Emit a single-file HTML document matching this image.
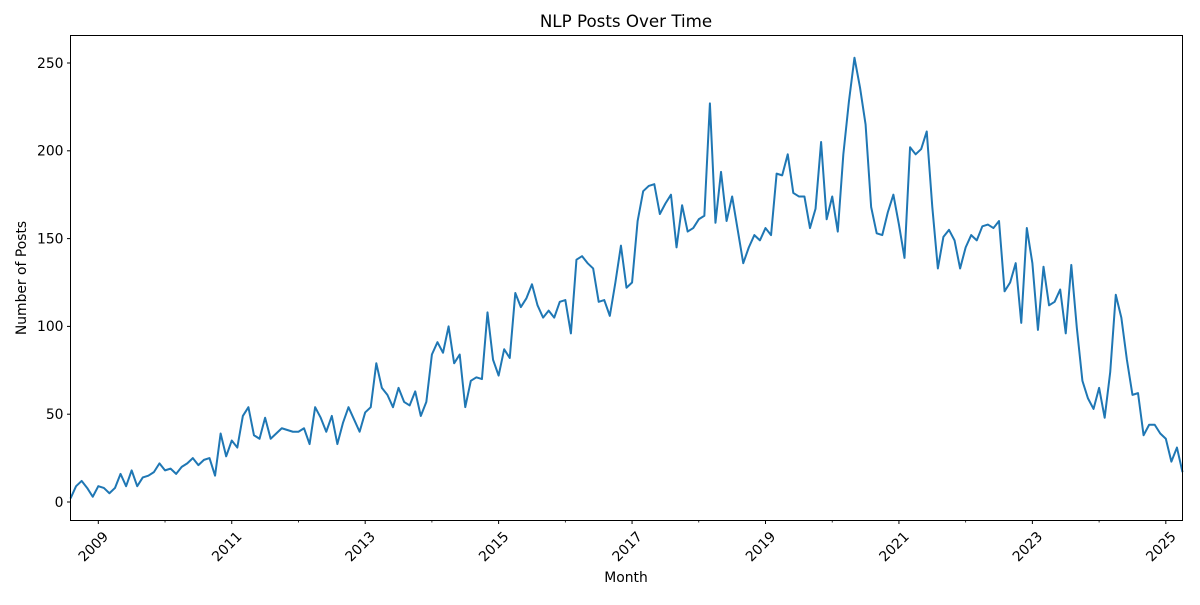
<!DOCTYPE html>
<html><head><meta charset="utf-8"><style>
body{margin:0;background:#fff}
text{font-family:"DejaVu Sans","Liberation Sans",sans-serif;fill:#000}
</style></head><body>
<svg id="chart" width="1200" height="600" xmlns="http://www.w3.org/2000/svg">
<rect width="1200" height="600" fill="#fff"/>
<text x="626" y="27" font-size="16.7" text-anchor="middle">NLP Posts Over Time</text>
<text x="626" y="582" font-size="13.9" text-anchor="middle">Month</text>
<text transform="translate(26,278) rotate(-90)" font-size="13.9" text-anchor="middle">Number of Posts</text>
<g id="axes"></g>
<path id="line" fill="none" stroke="#1f77b4" stroke-width="2" stroke-linejoin="round"/>
<rect x="70.5" y="35.5" width="1112" height="485" fill="none" stroke="#000" stroke-width="1"/>
</svg>
<script>
const startYear = 2008, startMonth = 8;
const posts = [2,9,12,8,3,
9,8,5,8,16,9,18,9,14,15,17,22,
18,19,16,20,22,25,21,24,25,15,39,26,
35,31,49,54,38,36,48,36,39,42,41,40,
40,42,33,54,48,40,49,33,45,54,47,40,
51,54,79,65,61,54,65,57,55,63,49,57,
84,91,85,100,79,84,54,69,71,70,108,81,
72,87,82,119,111,116,124,112,105,109,105,114,
115,96,138,140,136,133,114,115,106,125,146,122,
125,160,177,180,181,164,170,175,145,169,154,156,
161,163,227,159,188,160,174,155,136,145,152,149,
156,152,187,186,198,176,174,174,156,167,205,161,
174,154,198,228,253,236,215,168,153,152,165,175,
158,139,202,198,201,211,168,133,151,155,149,133,
145,152,149,157,158,156,160,120,125,136,102,156,
136,98,134,112,114,121,96,135,99,69,59,53,
65,48,74,118,105,81,61,62,38,44,44,39,
36,23,31,17];
const yTicks = [0,50,100,150,200,250];
const xLabelYears = [2009,2011,2013,2015,2017,2019,2021,2023,2025];
const xMinorYears = [2010,2012,2014,2016,2018,2020,2022,2024];

const L=70.5,R=1182.5,T=35.5,B=520.5;
const t0 = startYear*12 + (startMonth-1);
const t1 = t0 + posts.length - 1;
const xs = t => L + (t - t0)/(t1 - t0)*(R-L);
const ys = v => 502 - v*(439/250);
const NS="http://www.w3.org/2000/svg";
const axes=document.getElementById('axes');
function el(tag,attrs){const e=document.createElementNS(NS,tag);for(const k in attrs)e.setAttribute(k,attrs[k]);axes.appendChild(e);return e;}

yTicks.forEach(v=>{
  const y=ys(v);
  const tk=el('line',{x1:L-3.5,x2:L,y1:y,y2:y,stroke:'#000','stroke-width':1});
  
  
  const tx=el('text',{x:L-7,y:y+4.8,'font-size':13.9,'text-anchor':'end'});
  tx.textContent=v;
  
  
});
xLabelYears.forEach(yr=>{
  const x=xs(yr*12);
  const tk=el('line',{x1:x,x2:x,y1:B,y2:B+3.5,stroke:'#000','stroke-width':1});
  
  
  const tx=el('text',{transform:`translate(${x+4},${B+10}) rotate(-45)`,'font-size':13.9,'text-anchor':'end'});
  tx.setAttribute('dy','0.7em');
  tx.textContent=yr;
  
  
});
xMinorYears.forEach(yr=>{
  const x=xs(yr*12);
  const tk=el('line',{x1:x,x2:x,y1:B,y2:B+2,stroke:'#000','stroke-width':0.8});
  
  
});
document.getElementById('line').setAttribute('d',
  posts.map((v,i)=>(i?'L':'M')+xs(t0+i).toFixed(2)+','+ys(v).toFixed(2)).join(' '));
</script>
</body></html>
